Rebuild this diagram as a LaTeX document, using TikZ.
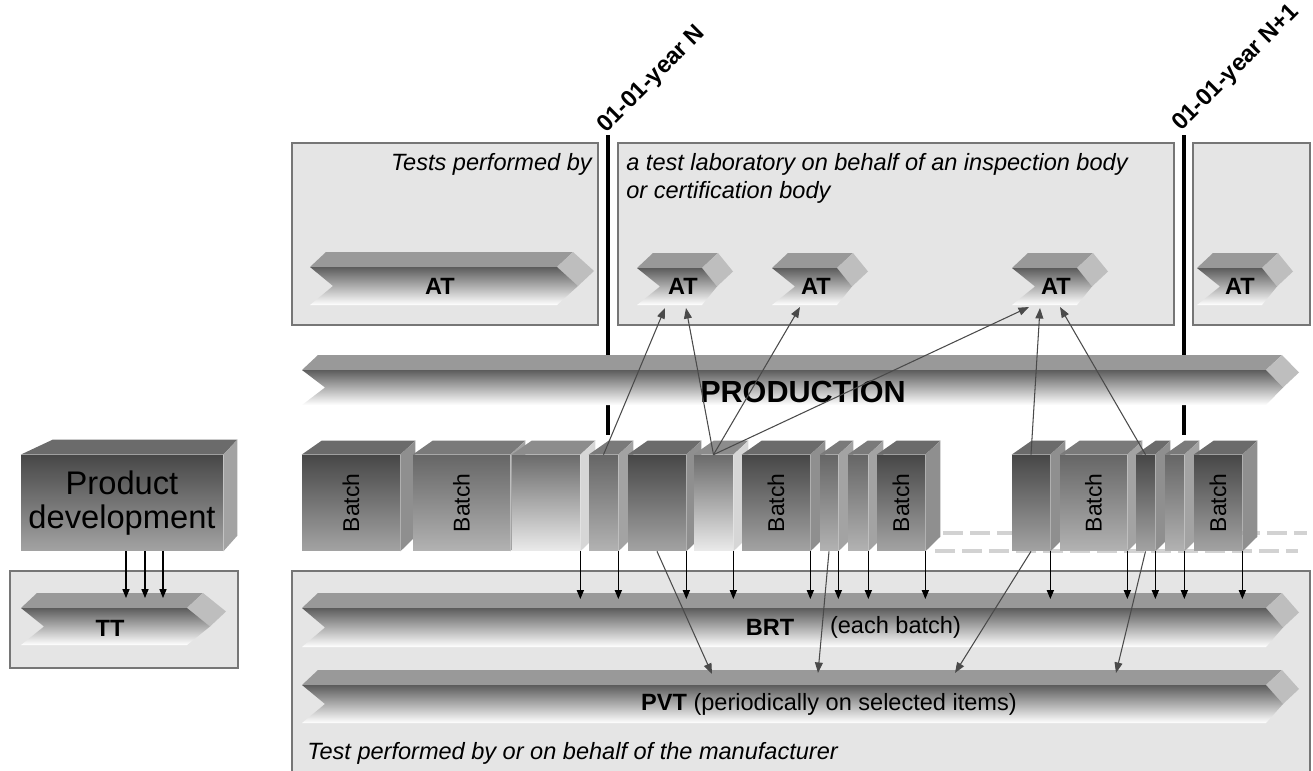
\documentclass[tikz,border=0pt]{standalone}
\usepackage{fontspec}
\setmainfont{Liberation Sans}
\usetikzlibrary{shapes,arrows.meta,positioning,calc}

\definecolor{boxfill}{HTML}{E5E5E5}
\definecolor{boxline}{HTML}{767676}
\definecolor{chevdark}{HTML}{5C5C5C}
\definecolor{chevtopc}{HTML}{999999}
\definecolor{chevsidec}{HTML}{BEBEBE}
\definecolor{linkgray}{HTML}{4A4A4A}
\definecolor{dashgray}{HTML}{D2D2D2}

\tikzset{
  panel/.style={fill=boxfill, draw=boxline, line width=0.8pt},
  timeline/.style={line width=2.3pt, black},
  datelabel/.style={rotate=45, anchor=base west, inner sep=0pt, font=\fontsize{13.5}{15}\selectfont\bfseries},
  paneltext/.style={inner sep=0pt, font=\fontsize{13.4}{16}\selectfont\itshape},
  barlabel/.style={inner sep=0pt, font=\fontsize{13.4}{15}\selectfont\bfseries},
  plain/.style={inner sep=0pt, font=\fontsize{13.4}{15}\selectfont},
  batchfront/.style={inner sep=0pt, minimum height=1.92cm, font=\fontsize{13}{15}\selectfont},
  dark front/.style={top color=black!72, bottom color=black!36},
  dark top/.style={fill=black!58},
  dark side/.style={fill=black!44},
  mid front/.style={top color=black!60, bottom color=black!30},
  mid top/.style={fill=black!52},
  mid side/.style={fill=black!36},
  light front/.style={top color=black!58, bottom color=black!8},
  light top/.style={fill=black!45},
  light side/.style={fill=black!16},
  blk/.style={-{Triangle[length=5pt,width=4pt]}, line width=0.6pt, black},
  gry/.style={-{Triangle[length=6pt,width=4.5pt]}, line width=0.6pt, linkgray},
}

% 3d chevron bar: x0, x1, front top, front bottom, tip
\newcommand{\chevbar}[5]{%
  \pgfmathsetmacro{\ymid}{(#3+#4)/2}
  \fill[chevtopc] (#1,#3) -- (#1+16,#3-15) -- (#2+16,#3-15) -- (#2,#3) -- cycle;
  \fill[chevsidec] (#2,#3) -- (#2+16,#3-15) -- (#2+#5+16,\ymid-15) -- (#2+#5,\ymid) -- cycle;
  \shade[top color=chevdark, bottom color=white] (#1,#3) -- (#2,#3) -- (#2+#5,\ymid) -- (#2,#4) -- (#1,#4) -- (#1+23,\ymid) -- cycle;
}

% 3d batch block: name, x0, x1, tone, label
\newcommand{\batchbox}[5]{%
  \node[batchfront, #4 front, minimum width={(#3-#2)*0.02cm}] (#1) at ({(#2+#3)/2},503) {\rotatebox{90}{#5}};
  \fill[#4 top] (#1.north west) -- ++(20,-14) -- ($(#1.north east)+(15,-14)$) -- (#1.north east) -- cycle;
  \fill[#4 side] (#1.north east) -- ++(15,-14) -- ++(0,96) -- (#1.south east) -- cycle;
}

\begin{document}
\begin{tikzpicture}[x=0.02cm, y=-0.02cm]
\useasboundingbox (0,0) rectangle (1313,771);
\clip (0,0) rectangle (1313,771);

\draw[panel] (292,143) rectangle (598,325);
\draw[panel] (618,143) rectangle (1174,325);
\draw[panel] (1193,143) rectangle (1310,325);
\draw[panel] (292,571) rectangle (1310,800);
\draw[panel] (10,571) rectangle (238,668);

\draw[timeline] (608,135) -- (608,435);
\draw[timeline] (1184,135) -- (1184,435);
\node[datelabel] (yearn) at (606,134) {01-01-year N};
\node[datelabel] (yearn1) at (1181,132) {01-01-year N+1};

\node[paneltext, anchor=base east] (tpb) at (592,170) {Tests performed by};
\node[paneltext, anchor=base west] (lab1) at (626,170) {a test laboratory on behalf of an inspection body};
\node[paneltext, anchor=base west] (lab2) at (626,198) {or certification body};

\chevbar{310}{557}{267}{305}{21}
\chevbar{637}{702}{268}{305}{15}
\chevbar{772}{837}{268}{305}{15}
\chevbar{1012}{1077}{268}{305}{15}
\chevbar{1197}{1262}{268}{305}{15}
\node[barlabel] (at0) at (440,286) {AT};
\node[barlabel] (at1) at (683,286) {AT};
\node[barlabel] (at2) at (816,286) {AT};
\node[barlabel] (at3) at (1056,286) {AT};
\node[barlabel] (at4) at (1240,286) {AT};

\chevbar{302}{1266}{370}{405}{17}
\node[barlabel, font=\fontsize{17.4}{20}\selectfont\bfseries] (prod) at (803,392) {PRODUCTION};

\draw[dashgray, line width=2.3pt, dash pattern=on 0.4cm off 0.14cm] (943,533) -- (1307,533);
\draw[dashgray, line width=2.3pt, dash pattern=on 0.4cm off 0.14cm] (935,551) -- (1298,551);

\batchbox{b1}{302}{400}{dark}{Batch}
\batchbox{b2}{413}{510}{mid}{Batch}
\batchbox{b3}{512}{580}{light}{}
\batchbox{b4}{589}{618}{mid}{}
\batchbox{b5}{628}{686}{dark}{}
\batchbox{b6}{694}{733}{light}{}
\batchbox{b7}{742}{810}{dark}{Batch}
\batchbox{b8}{820}{838}{mid}{}
\batchbox{b9}{848}{868}{mid}{}
\batchbox{b10}{877}{925}{dark}{Batch}
\batchbox{b11}{1012}{1050}{dark}{}
\batchbox{b12}{1060}{1127}{mid}{Batch}
\batchbox{b13}{1136}{1155}{dark}{}
\batchbox{b14}{1165}{1184}{mid}{}
\batchbox{b15}{1194}{1242}{dark}{Batch}

\node[batchfront, dark front, minimum width=4.04cm, align=center, font=\fontsize{18.6}{19.5}\selectfont] (pd) at (122,503) {Product\\development};
\fill[dark top] (pd.north west) -- ++(32,-15) -- ($(pd.north east)+(14,-15)$) -- (pd.north east) -- cycle;
\fill[mid side] (pd.north east) -- ++(14,-15) -- ++(0,96) -- (pd.south east) -- cycle;

\chevbar{21}{187}{608}{645}{23}
\node[barlabel] (tt) at (110,628) {TT};
\chevbar{302}{1266}{608}{647}{17}
\node[barlabel] (brt) at (770,627) {BRT};
\node[plain, right=20pt of brt] (brtnote) {(each batch)};
\chevbar{302}{1266}{685}{723}{17}
\node[plain] (pvt) at (829,704) {\textbf{PVT} (periodically on selected items)};
\node[paneltext, anchor=west] (mfr) at (307,753) {Test performed by or on behalf of the manufacturer};

\coordinate (ttin) at (110,598);
\coordinate (brtin) at (700,599);
\draw[blk] ($(pd.south)+(4,0)$) coordinate (p1) -- (p1 |- ttin);
\draw[blk] ($(pd.south)+(23,0)$) coordinate (p2) -- (p2 |- ttin);
\draw[blk] ($(pd.south)+(41,0)$) coordinate (p3) -- (p3 |- ttin);
\foreach \b in {b3,b4,b5,b6,b7,b8,b9,b10,b11,b12,b13,b14,b15}
  \draw[blk] (\b.south east) -- (\b.south east |- brtin);

\coordinate (at1a) at (665,308);
\coordinate (at1b) at (686,308);
\coordinate (at2a) at (800,307);
\coordinate (at3a) at (1029,307);
\coordinate (at3b) at (1040,308);
\coordinate (at3c) at (1060,307);
\draw[gry] (b4.north) -- (at1a);
\draw[gry] (b6.north) -- (at1b);
\draw[gry] (b6.north) -- (at2a);
\draw[gry] (b6.north) -- (at3a);
\draw[gry] (b11.north) -- (at3b);
\draw[gry] (b13.north) -- (at3c);

\coordinate (pvt1) at (712,674);
\coordinate (pvt2) at (818,673);
\coordinate (pvt3) at (955,673);
\coordinate (pvt4) at (1116,673);
\draw[gry] (b5.south) -- (pvt1);
\draw[gry] (b8.south) -- (pvt2);
\draw[gry] (b11.south) -- (pvt3);
\draw[gry] (b13.south) -- (pvt4);
\end{tikzpicture}
\end{document}
